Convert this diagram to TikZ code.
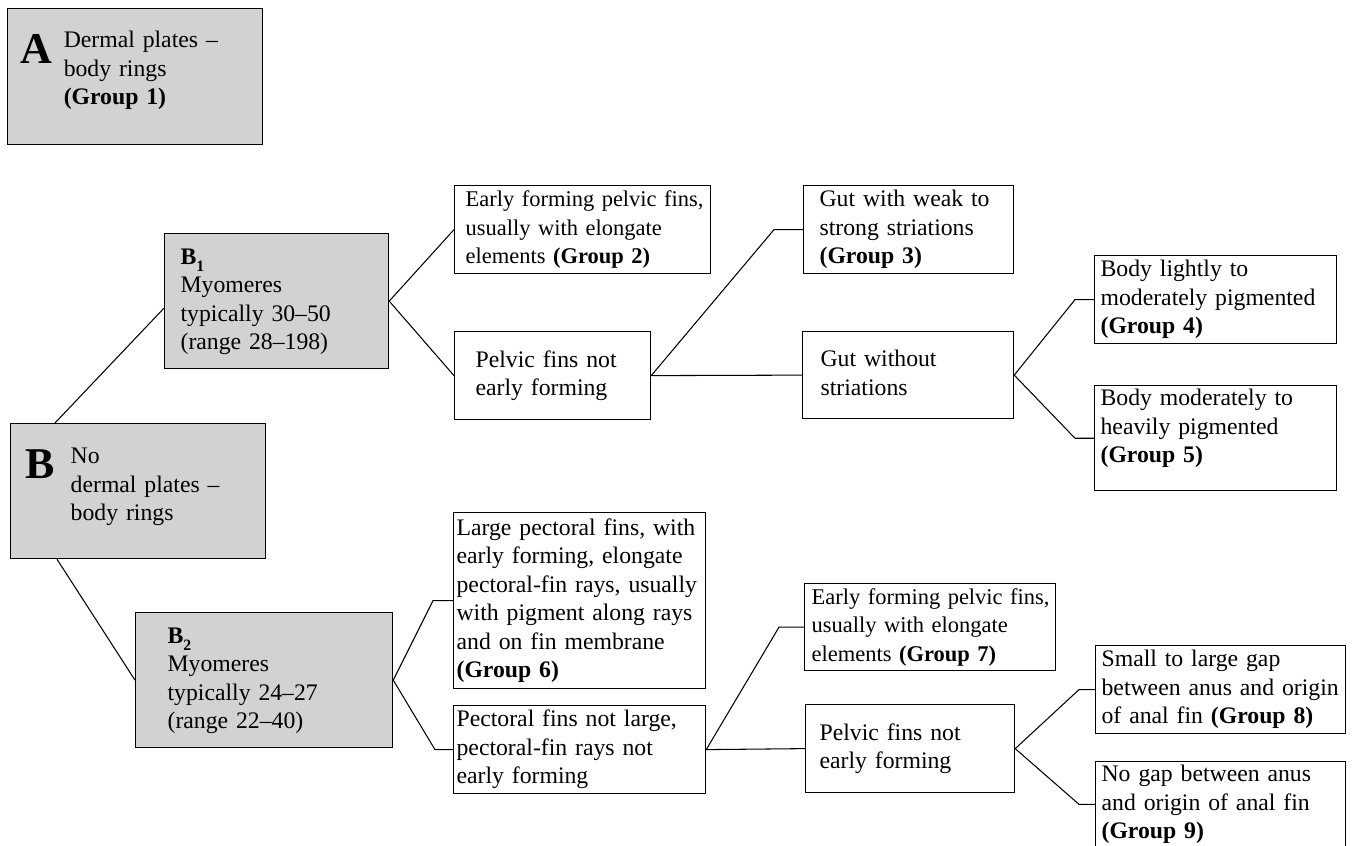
\documentclass[tikz,border=0pt]{standalone}
\usepackage{fontspec}
\setmainfont{Liberation Serif}
\definecolor{plate}{RGB}{210,210,210}
\newcommand{\keyfont}{\fontsize{13.5}{16.2}\selectfont}
\newcommand{\keytext}[2][c]{\begin{tabular}[#1]{@{}l@{}}#2\end{tabular}}
\newcommand{\keyletter}[1]{{\fontsize{25}{25}\selectfont\bfseries #1}}
\newcommand{\keysub}[2]{\textbf{#1}\raisebox{-4pt}[0pt][0pt]{\fontsize{9}{9}\selectfont\bfseries #2}}

\begin{document}
\begin{tikzpicture}[x=0.02cm, y=-0.02cm,
    box/.style={draw=black, line width=0.7pt, anchor=north west, inner sep=0pt, align=left, font=\keyfont},
    grey/.style={box, fill=plate},
    snug/.style={font=\fontsize{12.8}{16.2}\selectfont},
    dims/.style n args={3}{minimum width=#1*0.02cm, minimum height=#2*0.02cm, text width=(#1-2*#3)*0.02cm},
    link/.style={draw=black, line width=0.6pt}]
    \useasboundingbox (0,0) rectangle (1357,846);

    \node[grey, dims={255}{136}{13}, text depth=35pt] (a) at (7,8) {\keyletter{A}\kern6.5pt\raisebox{9pt}{\keytext[t]{Dermal plates --\\body rings\\\textbf{(Group 1)}}}};
    \node[grey, dims={255}{135}{15}, text depth=34pt] (bb) at (10,423) {\keyletter{B}\kern9pt\raisebox{8.5pt}{\keytext[t]{No\\dermal plates --\\body rings}}};
    \node[grey, dims={224}{135}{16}] (b1) at (164,233) {\keytext{\keysub{B}{1}\\Myomeres\\typically 30--50\\(range 28--198)}};
    \node[grey, dims={257}{135}{32}] (b2) at (135,612) {\keytext{\keysub{B}{2}\\Myomeres\\typically 24--27\\(range 22--40)}};

    \node[box, snug, dims={256}{88}{11}] (g2) at (454,185) {\keytext{Early forming pelvic fins,\\usually with elongate\\elements \textbf{(Group 2)}}};
    \node[box, dims={196}{88}{21}] (pv1) at (454,331) {\keytext{Pelvic fins not\\early forming}};
    \node[box, dims={210}{88}{16}] (g3) at (803,185) {\keytext{Gut with weak to\\strong striations\\\textbf{(Group 3)}}};
    \node[box, dims={211}{87}{18}] (gut) at (802,331) {\keytext{Gut without\\striations}};
    \node[box, dims={242}{88}{6}] (g4) at (1094,255) {\keytext{Body lightly to\\moderately pigmented\\\textbf{(Group 4)}}};
    \node[box, dims={242}{100}{6}, text depth=32pt] (g5) at (1094,385) {\keytext{Body moderately to\\heavily pigmented\\\textbf{(Group 5)}}};

    \node[box, dims={252}{176}{3}] (g6) at (453,512) {\keytext{Large pectoral fins, with\\early forming, elongate\\pectoral-fin rays, usually\\with pigment along rays\\and on fin membrane\\\textbf{(Group 6)}}};
    \node[box, dims={252}{88}{3}] (pec) at (453,705) {\keytext{Pectoral fins not large,\\pectoral-fin rays not\\early forming}};
    \node[box, snug, dims={251}{87}{7}] (g7) at (804,583) {\keytext{Early forming pelvic fins,\\usually with elongate\\elements \textbf{(Group 7)}}};
    \node[box, dims={209}{88}{14}] (pv2) at (805,704) {\keytext{Pelvic fins not\\early forming}};
    \node[box, dims={250}{88}{6}] (g8) at (1095,645) {\keytext{Small to large gap\\between anus and origin\\of anal fin \textbf{(Group 8)}}};
    \node[box, dims={250}{84}{6}] (g9) at (1095,761) {\keytext{No gap between anus\\and origin of anal fin\\\textbf{(Group 9)}}};

    \draw[link] ([xshift=0.9cm]bb.north west) -- ([yshift=-0.14cm]b1.west);
    \draw[link] ([xshift=0.94cm]bb.south west) -- (b2.west);
    \draw[link] (b1.east) -- (g2.west);
    \draw[link] (b1.east) -- (pv1.west);
    \draw[link] (pv1.east) -- ([xshift=-0.58cm]g3.west) -- (g3.west);
    \draw[link] (pv1.east) -- (gut.west);
    \draw[link] (gut.east) -- ([xshift=-0.38cm]g4.west) -- (g4.west);
    \draw[link] (gut.east) -- ([xshift=-0.38cm]g5.west) -- (g5.west);
    \draw[link] (b2.east) -- ([xshift=-0.4cm]g6.west) -- (g6.west);
    \draw[link] (b2.east) -- ([xshift=-0.36cm]pec.west) -- (pec.west);
    \draw[link] (pec.east) -- ([xshift=-0.5cm]g7.west) -- (g7.west);
    \draw[link] (pec.east) -- (pv2.west);
    \draw[link] (pv2.east) -- ([xshift=-0.32cm]g8.west) -- (g8.west);
    \draw[link] (pv2.east) -- ([xshift=-0.32cm]g9.west) -- (g9.west);
\end{tikzpicture}
\end{document}
